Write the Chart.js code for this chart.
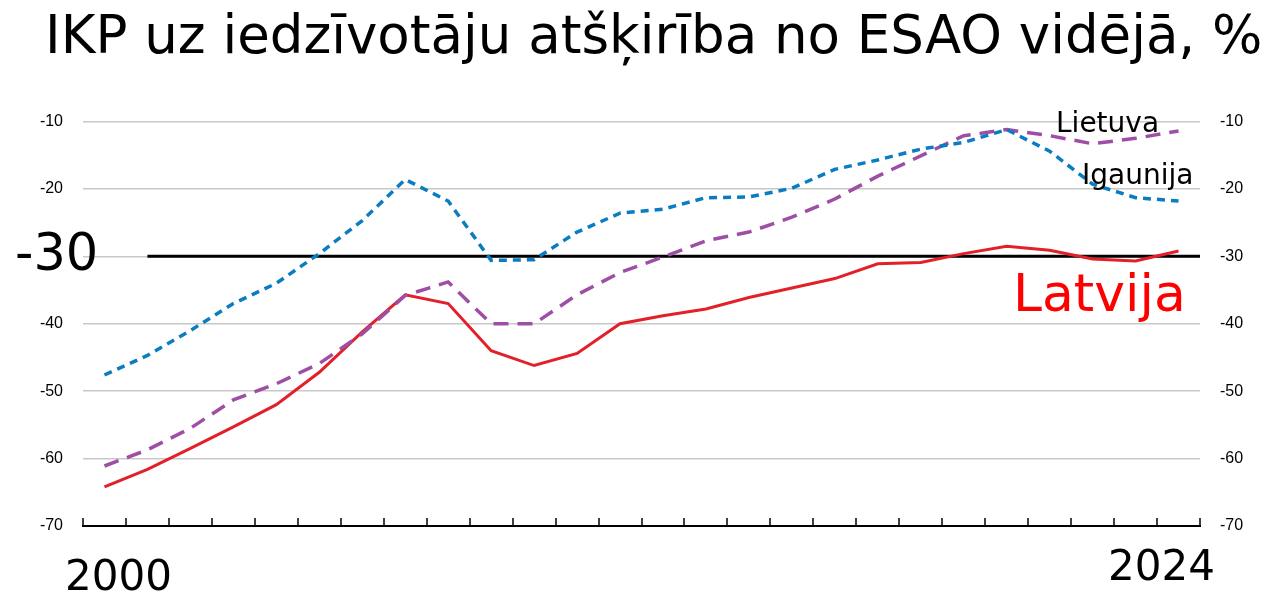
<!DOCTYPE html>
<html>
<head>
<meta charset="utf-8">
<script src="https://cdn.jsdelivr.net/npm/chart.js@4/dist/chart.umd.min.js"></script>
<style>
  html, body { margin: 0; padding: 0; background: #fff; }
  #wrap { width: 1263px; height: 592px; }
</style>
</head>
<body>
<div id="wrap"><canvas id="chart"></canvas></div>
<script>
const years = [2000, 2001, 2002, 2003, 2004, 2005, 2006, 2007, 2008, 2009, 2010, 2011, 2012,
  2013, 2014, 2015, 2016, 2017, 2018, 2019, 2020, 2021, 2022, 2023, 2024, 2025]
const latvija = [-64.2, -61.6, -58.5, -55.3, -52.0, -47.2, -41.2, -35.7, -37.0, -44.0, -46.2, -44.4, -40.0,
  -38.8, -37.8, -36.1, -34.7, -33.3, -31.1, -30.9, -29.6, -28.5, -29.1, -30.4, -30.7, -29.2]
const lietuva = [-61.1, -58.7, -55.5, -51.3, -48.9, -45.9, -41.5, -35.8, -33.8, -40.0, -40.0, -35.7, -32.4,
  -30.1, -27.7, -26.4, -24.2, -21.5, -18.1, -15.1, -12.1, -11.2, -12.1, -13.3, -12.5, -11.4]
const igaunija = [-47.6, -44.7, -41.0, -37.0, -34.0, -29.6, -24.7, -18.6, -21.8, -30.6, -30.5, -26.4, -23.6,
  -23.0, -21.3, -21.2, -19.9, -17.1, -15.7, -14.1, -13.1, -11.2, -14.4, -19.3, -21.3, -21.8]
const benchmark = -30
const yMin = -70
const yMax = -10

const titleText = 'IKP uz iedzīvotāju atšķirība no ESAO vidējā, %'
const edgeLabels = ['2000', '2024']

const tickFont = { family: '"Liberation Sans", Arial, sans-serif', size: 16 }
const bigFont = '"DejaVu Sans", Verdana, sans-serif'

const decorations = {
  id: 'decorations',
  beforeDatasetsDraw (chart) {
    const { ctx, chartArea, scales: { x, y } } = chart
    ctx.save()
    // black -30 line
    const yPix = y.getPixelForValue(benchmark)
    ctx.strokeStyle = '#000'
    ctx.lineWidth = 3
    ctx.beginPath()
    ctx.moveTo(x.getPixelForValue(1), yPix)
    ctx.lineTo(chartArea.right, yPix)
    ctx.stroke()
    // upward tick marks between years
    const step = (chartArea.right - chartArea.left) / years.length
    ctx.lineWidth = 1.5
    ctx.beginPath()
    for (let i = 0; i <= years.length; i++) {
      const px = Math.round(chartArea.left + step * i)
      ctx.moveTo(px, chartArea.bottom)
      ctx.lineTo(px, chartArea.bottom - 8)
    }
    ctx.stroke()
    ctx.restore()
  },
  afterDraw (chart) {
    const { ctx, scales: { y } } = chart
    ctx.save()
    ctx.textAlign = 'left'
    ctx.textBaseline = 'alphabetic'
    ctx.fillStyle = '#000'

    ctx.font = '53px ' + bigFont
    ctx.fillText(titleText, 45, 53)

    ctx.font = '51px ' + bigFont
    ctx.fillText(String(benchmark), 15, y.getPixelForValue(benchmark) + 13.5)

    ctx.font = '28px ' + bigFont
    ctx.fillText('Lietuva', 1056, 132)
    ctx.fillText('Igaunija', 1082, 184)

    ctx.font = '42px ' + bigFont
    ctx.fillText(edgeLabels[0], 65, 590)
    ctx.fillText(edgeLabels[1], 1108, 580)

    ctx.fillStyle = '#ff0000'
    ctx.font = '52px ' + bigFont
    ctx.fillText('Latvija', 1013, 311)
    ctx.restore()
  }
}

const canvas = document.querySelector('#chart')
const chart = new Chart(canvas, {
  type: 'line',
  data: {
    labels: years,
    datasets: [
      {
        label: 'Igaunija',
        data: igaunija,
        borderColor: '#0a7cc1',
        borderWidth: 3.5,
        borderDash: [8, 6]
      },
      {
        label: 'Lietuva',
        data: lietuva,
        borderColor: '#9e4fa5',
        borderWidth: 3.5,
        borderDash: [15, 9]
      },
      {
        label: 'Latvija',
        data: latvija,
        borderColor: '#e3202a',
        borderWidth: 3
      }
    ]
  },
  options: {
    responsive: true,
    maintainAspectRatio: false,
    animation: false,
    devicePixelRatio: 1,
    elements: {
      point: { radius: 0 },
      line: { tension: 0, fill: false }
    },
    layout: {
      padding: { top: 121.5, left: 0, right: 0, bottom: 0 }
    },
    plugins: {
      legend: { display: false },
      tooltip: { enabled: false },
      title: { display: false }
    },
    scales: {
      x: {
        offset: true,
        grid: { display: false },
        border: { display: true, color: '#000', width: 2 },
        ticks: { display: false },
        afterFit: (scale) => { scale.height = 66 }
      },
      y: {
        position: 'left',
        min: yMin,
        max: yMax,
        grid: { color: '#c8c8c8', lineWidth: 1.5, drawTicks: false },
        border: { display: false },
        ticks: {
          stepSize: 10,
          padding: 20,
          color: '#000',
          font: tickFont,
          // the big -30 replaces this label on the left side
          callback: (value) => value === benchmark ? '' : value
        },
        afterFit: (scale) => { scale.width = 83 }
      },
      y2: {
        position: 'right',
        min: yMin,
        max: yMax,
        grid: { drawOnChartArea: false, drawTicks: false },
        border: { display: false },
        ticks: { stepSize: 10, padding: 20, color: '#000', font: tickFont },
        afterFit: (scale) => { scale.width = 63 }
      }
    }
  },
  plugins: [decorations]
})
</script>
</body>
</html>
